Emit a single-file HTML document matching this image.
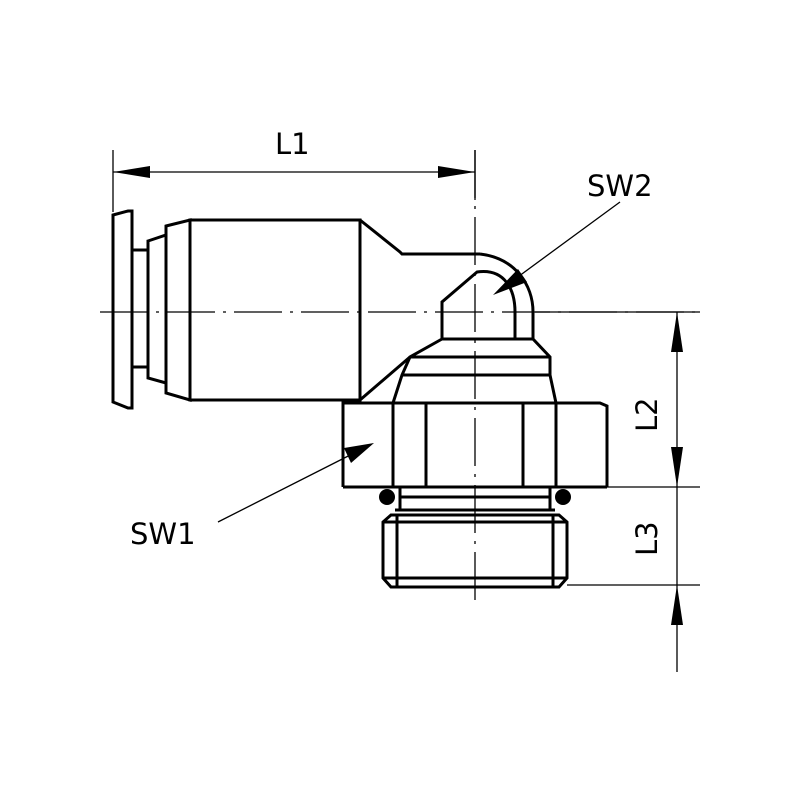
<!DOCTYPE html>
<html><head><style>body{margin:0;background:#fff}svg{display:block}</style></head><body>
<svg width="800" height="800" viewBox="0 0 800 800" xmlns="http://www.w3.org/2000/svg">
<rect width="800" height="800" fill="#fff"/>
<g fill="none" stroke="#000" stroke-width="1.3">
<line x1="100" y1="312" x2="700" y2="312" stroke-dasharray="48,8,3,8"/>
<line x1="475" y1="150" x2="475" y2="600" stroke-dasharray="48,8,3,8"/>
<line x1="113" y1="150" x2="113" y2="212"/>
<line x1="475" y1="150" x2="475" y2="200"/>
<line x1="113" y1="172" x2="475" y2="172"/>
<line x1="535" y1="312" x2="700" y2="312"/>
<line x1="607" y1="487" x2="700" y2="487"/>
<line x1="567" y1="585" x2="700" y2="585"/>
<line x1="677" y1="312" x2="677" y2="672"/>
<line x1="620" y1="202" x2="500" y2="290"/>
<line x1="218" y1="522" x2="368" y2="446"/>
</g>
<g fill="#000">
<polygon points="113,172 150,166 150,178"/>
<polygon points="475,172 438,166 438,178"/>
<polygon points="677,312 671,352 683,352"/>
<polygon points="677,487 671,447 683,447"/>
<polygon points="677,585 671,625 683,625"/>
<polygon points="493,295 518,269 527,282"/>
<polygon points="374,443 344,448 351,463"/>
<circle cx="387" cy="497" r="8"/>
<circle cx="563" cy="497" r="8"/>
</g>
<g fill="none" stroke="#000" stroke-width="3" stroke-linejoin="miter">
<polygon points="113,215 128,211 132,211 132,408 128,408 113,402"/>
<rect x="132" y="250" width="16" height="117"/>
<polygon points="148,241 166,235 166,383 148,378"/>
<polygon points="166,226 190,220 190,400 166,393"/>
<rect x="190" y="220" width="170" height="180"/>
<polyline points="360,220 400,252 402,254 480,254"/>
<path d="M480,254 C515,258 533,285 533,312 L533,339"/>
<path d="M442,339 L442,302 L477,272 C505,268 515,290 515,312 L515,339"/>
<line x1="360" y1="400" x2="410" y2="357"/>
<polyline points="442,339 533,339 550,357 550,375 556,403"/>
<polyline points="442,339 410,357 402,375 393,403"/>
<line x1="410" y1="357" x2="550" y2="357"/>
<line x1="402" y1="375" x2="550" y2="375"/>
<polyline points="343,487 343,403 600,403 607,406 607,487"/>
<line x1="343" y1="487" x2="607" y2="487"/>
<line x1="393" y1="403" x2="393" y2="487"/>
<line x1="426" y1="403" x2="426" y2="487"/>
<line x1="523" y1="403" x2="523" y2="487"/>
<line x1="556" y1="403" x2="556" y2="487"/>
<line x1="400" y1="487" x2="400" y2="510"/>
<line x1="550" y1="487" x2="550" y2="510"/>
<line x1="400" y1="497" x2="550" y2="497"/>
<line x1="395" y1="510" x2="555" y2="510"/>
<polygon points="391,515 559,515 567,522 567,578 559,587 391,587 383,578 383,522"/>
<line x1="397" y1="515" x2="397" y2="587"/>
<line x1="553" y1="515" x2="553" y2="587"/>
<line x1="383" y1="522" x2="567" y2="522"/>
<line x1="383" y1="578" x2="567" y2="578"/>
</g>
<g font-family="'DejaVu Sans', 'Liberation Sans', sans-serif" font-size="29" fill="#000">
<text x="275" y="154">L1</text>
<text x="587" y="196">SW2</text>
<text x="130" y="544">SW1</text>
<text transform="translate(657,432) rotate(-90)">L2</text>
<text transform="translate(657,556) rotate(-90)">L3</text>
</g>
</svg>
</body></html>
